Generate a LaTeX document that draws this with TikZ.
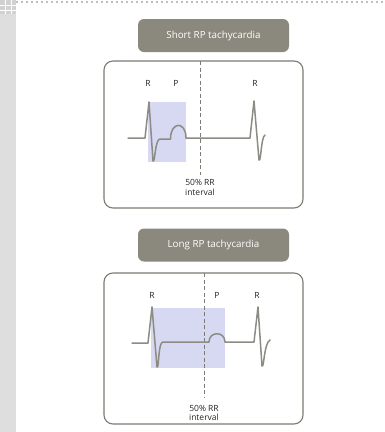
\documentclass[tikz,border=0pt]{standalone}
\usepackage{fontspec}
\setmainfont{Open Sans}
\definecolor{hdr}{HTML}{8B887D}
\definecolor{frame}{HTML}{7C7B74}
\definecolor{ecg}{HTML}{8C8C84}
\definecolor{rpblue}{HTML}{D6D9F1}
\definecolor{band}{HTML}{DEDEDE}
\tikzset{
  header/.style={fill=hdr, rounded corners=6pt, minimum width=151pt, minimum height=33pt, text=white, font=\fontsize{9.8}{11}\selectfont, inner sep=0pt},
  panel/.style={draw=frame, line width=1.1pt, rounded corners=9pt, fill=white},
  lbl/.style={font=\fontsize{8.5}{10}\selectfont, text=black!85, inner sep=0pt},
  midtxt/.style={font=\fontsize{8.5}{9.5}\selectfont, text=black!85, align=center, inner sep=0pt},
  trace/.style={draw=ecg, line width=1.5pt, line join=round, line cap=round},
  halfline/.style={draw=frame, line width=0.9pt, dash pattern=on 4pt off 2.5pt},
}
\begin{document}
\begin{tikzpicture}[x=1pt,y=-1pt]
\useasboundingbox (0,0) rectangle (384,432);
\fill[white] (0,0) rectangle (384,432);
% page decorations
\fill[band] (0,0) rectangle (16,432);
\draw[black!25, line width=2pt, dash pattern=on 2pt off 3pt] (16,2) -- (384,2);
\fill[black!18] (0,0) rectangle (16,14);
\draw[white, line width=0.8pt] (5,0) -- (5,14) (11,0) -- (11,14) (0,5) -- (16,5) (0,10) -- (16,10);

% ---------- Short RP ----------
\node[header] (h1) at (213.5,35.5) {Short RP tachycardia};
\path[panel] (104,61) rectangle (303,208);
\coordinate (p1top) at (200,61);
\coordinate (p1bot) at (200,175);
\fill[rpblue] (148,102) rectangle (186,162);
\draw[halfline] (p1top) -- (p1bot);
\node[lbl] (r1a) at (148,83) {R};
\node[lbl] (p1) at (176,83) {P};
\node[lbl] (r1b) at (255,83) {R};
\node[midtxt] (m1) at (200,187.5) {50\% RR\\interval};
\path[trace] (128,138) -- (145,138) -- (149,102) -- (153,161)
  .. controls (155,164) and (155,139) .. (160,139) -- (170.5,139)
  .. controls (170.5,121) and (186,121) .. (186,138) -- (250,138)
  -- (254,101) -- (259,160) .. controls (261,163) and (261,137) .. (265,135);

% ---------- Long RP ----------
\node[header] (h2) at (213.5,245) {Long RP tachycardia};
\path[panel] (104,273) rectangle (303,424);
\coordinate (p2top) at (204,273);
\coordinate (p2bot) at (204,398);
\fill[rpblue] (151,308) rectangle (225,368);
\draw[halfline] (p2top) -- (p2bot);
\node[lbl] (r2a) at (152,295) {R};
\node[lbl] (p2) at (217,295) {P};
\node[lbl] (r2b) at (257,295) {R};
\node[midtxt] (m2) at (204,413) {50\% RR\\interval};
\path[trace] (132,343) -- (148,343) -- (152,307) -- (157,367)
  .. controls (159,370) and (158,342) .. (163,342) -- (209,342)
  .. controls (209,331) and (225,331) .. (225,342) -- (254,342)
  -- (258,307) -- (262,366) .. controls (264,369) and (264,343) .. (270,340);
\end{tikzpicture}
\end{document}
